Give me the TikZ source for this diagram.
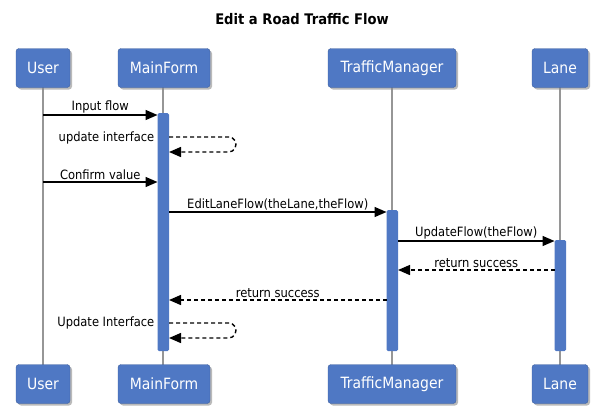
\documentclass[tikz,border=0pt]{standalone}
\usepackage{fontspec}
\setmainfont{DejaVu Sans Condensed}
\usetikzlibrary{arrows.meta,shadows}
\definecolor{actorblue}{RGB}{79,120,196}
\definecolor{lifegray}{RGB}{150,150,150}
\tikzset{
  actor/.style={draw=actorblue!80!black,line width=0.4pt,fill=actorblue,rounded corners=3pt,
    text=white,font=\fontsize{15.5}{18}\selectfont,minimum height=39pt,inner xsep=0pt,
    drop shadow={shadow xshift=2pt,shadow yshift=-2pt,fill=black!45,opacity=0.6}},
  lifeline/.style={draw=lifegray,line width=1.5pt},
  activation/.style={fill=actorblue,draw=none,rounded corners=1.5pt},
  msg/.style={line width=1.4pt,-{Triangle[length=12pt,width=10pt]}},
  reply/.style={msg,dash pattern=on 4pt off 3pt},
  lbl/.style={font=\fontsize{12.8}{15}\selectfont,inner sep=1.5pt}
}
\begin{document}
\begin{tikzpicture}[x=1pt,y=-1pt]
\useasboundingbox (0,0) rectangle (605,408);
% title
\node[font=\bfseries\fontsize{14.6}{17}\selectfont] (title) at (302,19) {Edit a Road Traffic Flow};
% lifelines
\foreach \n/\x in {user/43,main/163,tm/392,lane/560}{
  \coordinate (\n top) at (\x,68);
  \coordinate (\n bot) at (\x,384);
  \draw[lifeline] (\n top) -- (\n bot);
}
% participant boxes
\node[actor,minimum width=54pt] (userH) at (43,68) {User};
\node[actor,minimum width=92pt] (mainH) at (164,68) {MainForm};
\node[actor,minimum width=128pt] (tmH) at (392,68) {TrafficManager};
\node[actor,minimum width=56pt] (laneH) at (560,68) {Lane};
\node[actor,minimum width=54pt] (userF) at (43,384) {User};
\node[actor,minimum width=92pt] (mainF) at (164,384) {MainForm};
\node[actor,minimum width=128pt] (tmF) at (392,384) {TrafficManager};
\node[actor,minimum width=56pt] (laneF) at (560,384) {Lane};
% activation bars
\fill[activation] (157.5,113) rectangle (169,351);
\fill[activation] (386.5,210) rectangle (398,351);
\fill[activation] (554.5,240) rectangle (566,351);
% message anchor points
\coordinate (u1) at (43,115);   \coordinate (m1) at (157.5,115);
\coordinate (m2a) at (169,137); \coordinate (m2b) at (169,152);
\coordinate (u3) at (43,182);   \coordinate (m3) at (157.5,182);
\coordinate (m4) at (169,212);  \coordinate (t4) at (386.5,212);
\coordinate (t5) at (398,241);  \coordinate (l5) at (554.5,241);
\coordinate (l6) at (554.5,270);\coordinate (t6) at (398,270);
\coordinate (t7) at (386.5,300);\coordinate (m7) at (169,300);
\coordinate (m8a) at (169,323); \coordinate (m8b) at (169,338);
% messages
\draw[msg] (u1) -- node[lbl,above] {Input flow} (m1);
\draw[reply,rounded corners=4pt] (m2a) -- (233,137) -- (237,144.5) -- (233,152) -- (m2b);
\node[lbl,anchor=east] (l2) at (156,138) {update interface};
\draw[msg] (u3) -- node[lbl,above] {Confirm value} (m3);
\draw[msg] (m4) -- node[lbl,above] {EditLaneFlow(theLane,theFlow)} (t4);
\draw[msg] (t5) -- node[lbl,above] {UpdateFlow(theFlow)} (l5);
\draw[reply] (l6) -- node[lbl,above] {return success} (t6);
\draw[reply] (t7) -- node[lbl,above] {return success} (m7);
\draw[reply,rounded corners=4pt] (m8a) -- (233,323) -- (237,330.5) -- (233,338) -- (m8b);
\node[lbl,anchor=east] (l8) at (156,323) {Update Interface};
\end{tikzpicture}
\end{document}
